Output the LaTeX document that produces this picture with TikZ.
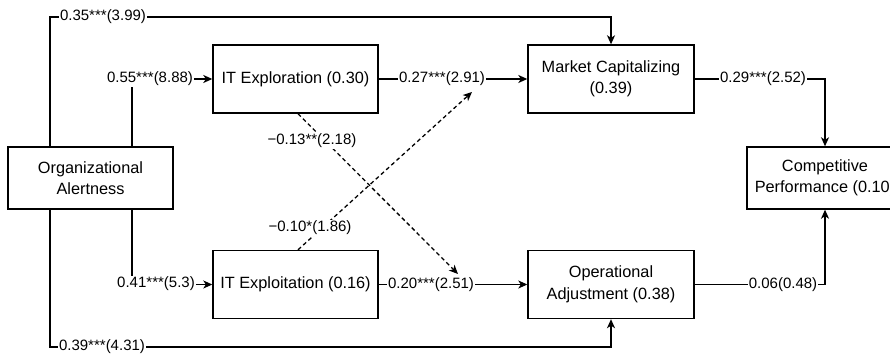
\documentclass[tikz,border=0pt]{standalone}
\usepackage{fontspec}
\setmainfont{Liberation Sans}
\usetikzlibrary{arrows.meta}
\begin{document}
\begin{tikzpicture}[x=1pt,y=-1pt,
  box/.style={draw, line width=1.4pt, fill=white, align=center, inner sep=0pt, font=\fontsize{16.3}{21.5}\selectfont},
  conn/.style={line width=1.3pt},
  arr/.style={conn, -{Stealth[length=9pt,width=8pt,inset=2.5pt]}},
  dsh/.style={arr, dash pattern=on 4pt off 3pt},
  lbl/.style={fill=white, inner sep=1pt, font=\fontsize{15}{18}\selectfont},
]
\useasboundingbox (0,0) rectangle (890,353);
% boxes (positions)
\node[box, minimum width=165pt, minimum height=62pt] (org) at (90.5,178) {Organizational\\Alertness};
\node[box, minimum width=165pt, minimum height=68pt] (exr) at (295.5,79) {IT Exploration (0.30)};
\node[box, minimum width=165pt, minimum height=68pt] (exi) at (295.5,284.5) {IT Exploitation (0.16)};
\node[box, minimum width=166pt, minimum height=68pt] (mc) at (611,79) {Market Capitalizing\\(0.39)};
\node[box, minimum width=166pt, minimum height=68pt] (oa) at (611,284.5) {Operational\\Adjustment (0.38)};
\node[box, minimum width=156pt, minimum height=62pt] (cp) at (825,178) {Competitive\\Performance (0.10)};
% helper coordinates
\coordinate (ytop) at (0,17);
\coordinate (ybot) at (0,347);
\coordinate (xa) at (50,0);
\coordinate (xb) at (132,0);
\coordinate (d1) at (458,274);
\coordinate (d2) at (472,92);
% connectors
\draw[arr] (org.north -| xa) |- (mc.north |- ytop) -- (mc.north);
\draw[arr] (org.north -| xb) |- (exr.west);
\draw[arr] (org.south -| xb) |- (exi.west);
\draw[arr] (org.south -| xa) |- (oa.south |- ybot) -- (oa.south);
\draw[arr] (exr.east) -- (mc.west);
\draw[arr] (exi.east) -- (oa.west);
\draw[arr] (mc.east) -| (cp.north);
\draw[arr] (oa.east) -| (cp.south);
\draw[dsh] ([xshift=2.5pt]exr.south) -- (d1);
\draw[dsh] ([xshift=2.5pt]exi.north) -- (d2);
% labels
\node[lbl] (l1) at (103,17) {0.35***(3.99)};
\node[lbl] (l2) at (150,79) {0.55***(8.88)};
\node[lbl] (l3) at (156,284) {0.41***(5.3)};
\node[lbl] (l4) at (102,347) {0.39***(4.31)};
\node[lbl] (l5) at (442,79) {0.27***(2.91)};
\node[lbl] (l6) at (431,284.5) {0.20***(2.51)};
\node[lbl] (l7) at (763,79) {0.29***(2.52)};
\node[lbl] (l8) at (783,284.5) {0.06(0.48)};
\node[lbl] (l9) at (312,141) {−0.13**(2.18)};
\node[lbl] (l10) at (310,228) {−0.10*(1.86)};
\end{tikzpicture}
\end{document}
